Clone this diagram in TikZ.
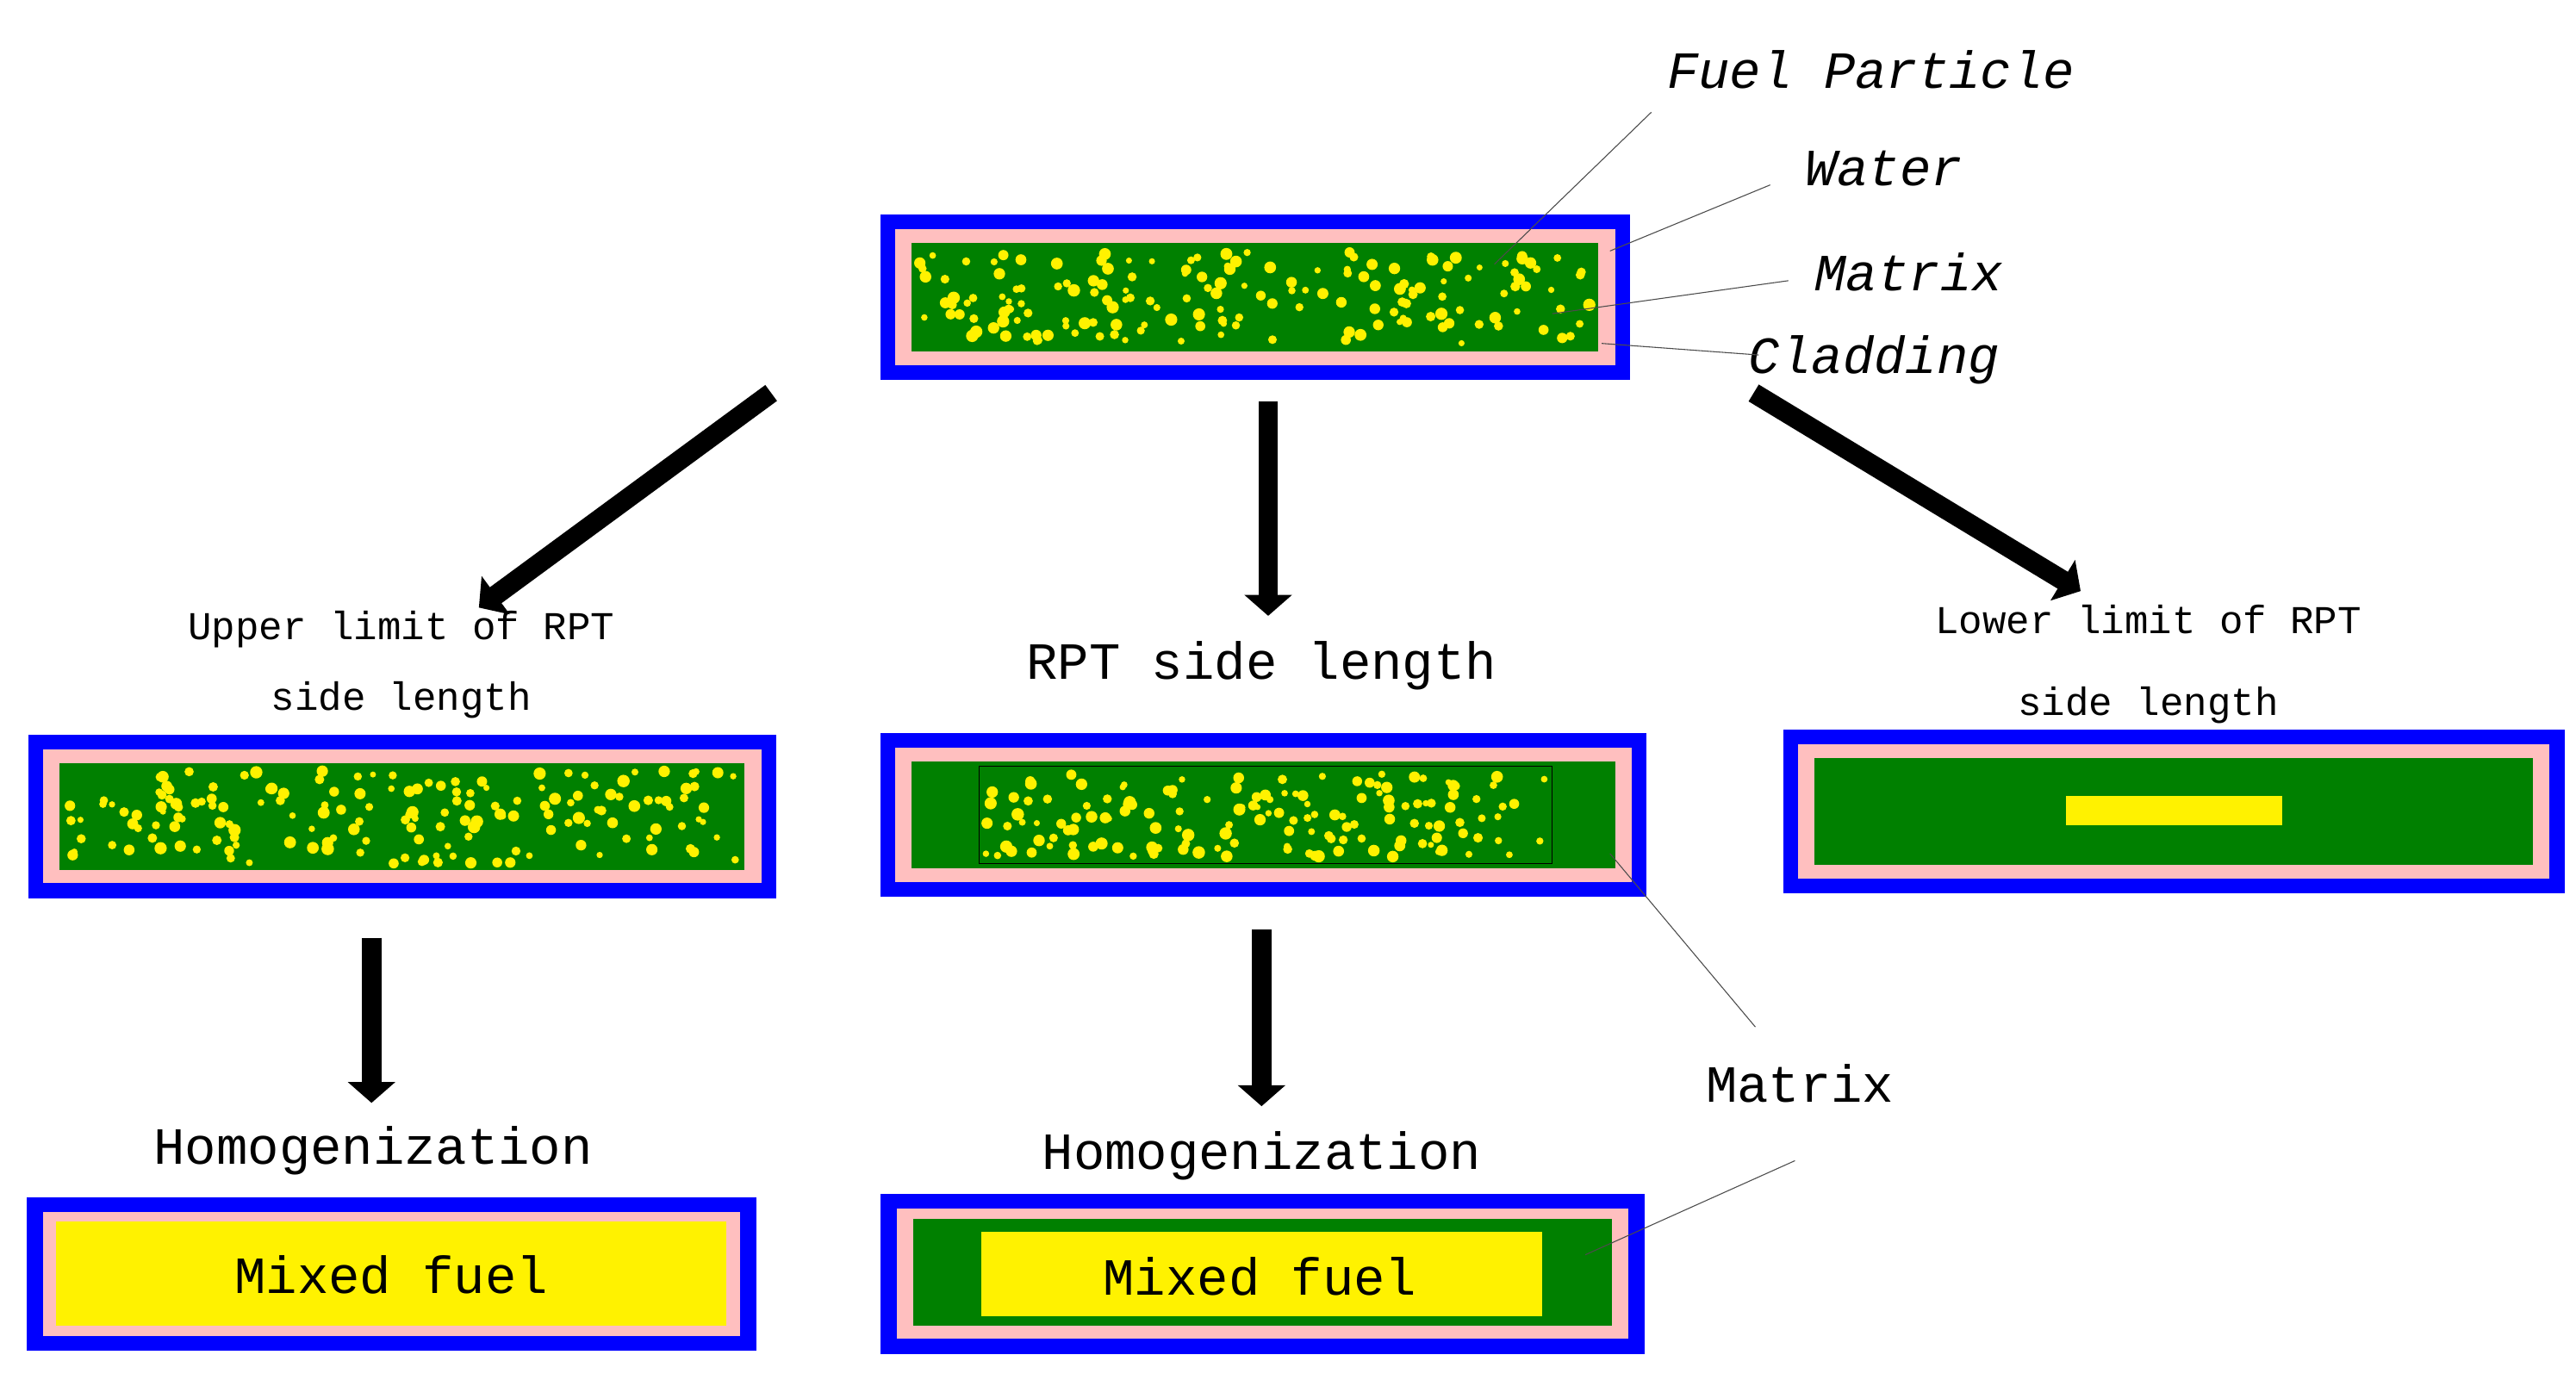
\documentclass[tikz,border=0pt]{standalone}
\usepackage{fontspec}
\newfontfamily\mono{Liberation Mono}
\usetikzlibrary{arrows.meta,calc}
\newcommand\scatterdots[5]{\foreach \k in {1,...,#5}{\pgfmathsetmacro\px{#1+rnd*(#3-#1)}\pgfmathsetmacro\py{#2+rnd*(#4-#2)}\pgfmathsetmacro\pr{1.8+rnd*2}\fill[yellow] (\px,\py) circle[radius=\pr];}}
\newcommand\fuelbox[5]{%
 \fill[blue] (#1,#2) rectangle (#3,#4);
 \fill[pink] ($(#1,#2)+(9,9)$) rectangle ($(#3,#4)+(-9,-9)$);
 \fill[#5] ($(#1,#2)+(19,17)$) rectangle ($(#3,#4)+(-19,-17)$);}
\tikzset{
 bigtxt/.style={font=\mono\fontsize{45}{50}\selectfont,inner sep=0pt},
 smalltxt/.style={font=\mono\fontsize{34}{40}\selectfont,inner sep=0pt},
 itltxt/.style={font=\mono\itshape\fontsize{45}{50}\selectfont,inner sep=0pt},
 leader/.style={draw=black!70,line width=0.8pt},
 bigarrow/.style={line width=17pt,-{Triangle[width=40pt,length=18pt]}}
}
\begin{document}
\begin{tikzpicture}[x=0.05cm,y=-0.05cm]
\fill[white] (0,0) rectangle (1560,839);
\useasboundingbox (0,0) rectangle (1560,839);
\pgfmathsetseed{7}
% top box
\fuelbox{533}{130}{987}{230}{green!50!black}
\scatterdots{557}{152}{963}{208}{170}
% left box
\fuelbox{17}{445}{470}{544}{green!50!black}
\scatterdots{41}{467}{446}{523}{170}
% middle box
\fuelbox{533}{444}{997}{543}{green!50!black}
\draw[black,line width=1pt] (593,464) rectangle (940,523);
\scatterdots{597}{468}{936}{519}{150}
% right box
\fuelbox{1080}{442}{1553}{541}{green!50!black}
\fill[yellow] (1251,482) rectangle (1382,500);
% bottom left
\fill[blue] (16,725) rectangle (458,818);
\fill[pink] (26,734) rectangle (448,809);
\fill[yellow] (34,740) rectangle (440,803);
\node[bigtxt] (mf1) at (237,772) {Mixed fuel};
% bottom middle
\fill[blue] (533,723) rectangle (996,820);
\fill[pink] (543,732) rectangle (986,811);
\fill[green!50!black] (553,738) rectangle (976,803);
\fill[yellow] (594,746) rectangle (934,797);
\node[bigtxt] (mf2) at (763,773) {Mixed fuel};
% labels top
\node[itltxt] (fp) at (1133,42) {Fuel Particle};
\node[itltxt] (wa) at (1141,102) {Water};
\node[itltxt] (ma) at (1156,165) {Matrix};
\node[itltxt] (cl) at (1135,218) {Cladding};
\coordinate (fp1) at (1000,68); \coordinate (fp2) at (905,160);
\coordinate (wa1) at (1072,112); \coordinate (wa2) at (975,152);
\coordinate (ma1) at (1083,170); \coordinate (ma2) at (940,190);
\coordinate (cl1) at (1065,215); \coordinate (cl2) at (970,208);
\draw[leader] (fp1) -- (fp2);
\draw[leader] (wa1) -- (wa2);
\draw[leader] (ma1) -- (ma2);
\draw[leader] (cl1) -- (cl2);
% arrows
\coordinate (a1s) at (467,238); \coordinate (a1e) at (290,368);
\coordinate (a2s) at (768,243); \coordinate (a2e) at (768,373);
\coordinate (a3s) at (1062,238); \coordinate (a3e) at (1260,358);
\coordinate (a4s) at (225,568); \coordinate (a4e) at (225,668);
\coordinate (a5s) at (764,563); \coordinate (a5e) at (764,670);
\draw[bigarrow] (a1s) -- (a1e);
\draw[bigarrow] (a2s) -- (a2e);
\draw[bigarrow] (a3s) -- (a3e);
\draw[bigarrow] (a4s) -- (a4e);
\draw[bigarrow] (a5s) -- (a5e);
% texts
\node[smalltxt] (u1) at (243,381) {Upper limit of RPT};
\node[smalltxt] (u2) at (243,424) {side length};
\node[bigtxt] (r1) at (764,403) {RPT side length};
\node[smalltxt] (l1) at (1301,375) {Lower limit of RPT};
\node[smalltxt] (l2) at (1301,427) {side length};
\node[bigtxt] (h1) at (226,697) {Homogenization};
\node[bigtxt] (h2) at (764,700) {Homogenization};
\node[bigtxt] (mx) at (1090,656) {Matrix};
\coordinate (m1a) at (1063,622); \coordinate (m1b) at (975,517);
\coordinate (m2a) at (1087,703); \coordinate (m2b) at (960,760);
\draw[leader] (m1a) -- (m1b);
\draw[leader] (m2a) -- (m2b);
\end{tikzpicture}
\end{document}
